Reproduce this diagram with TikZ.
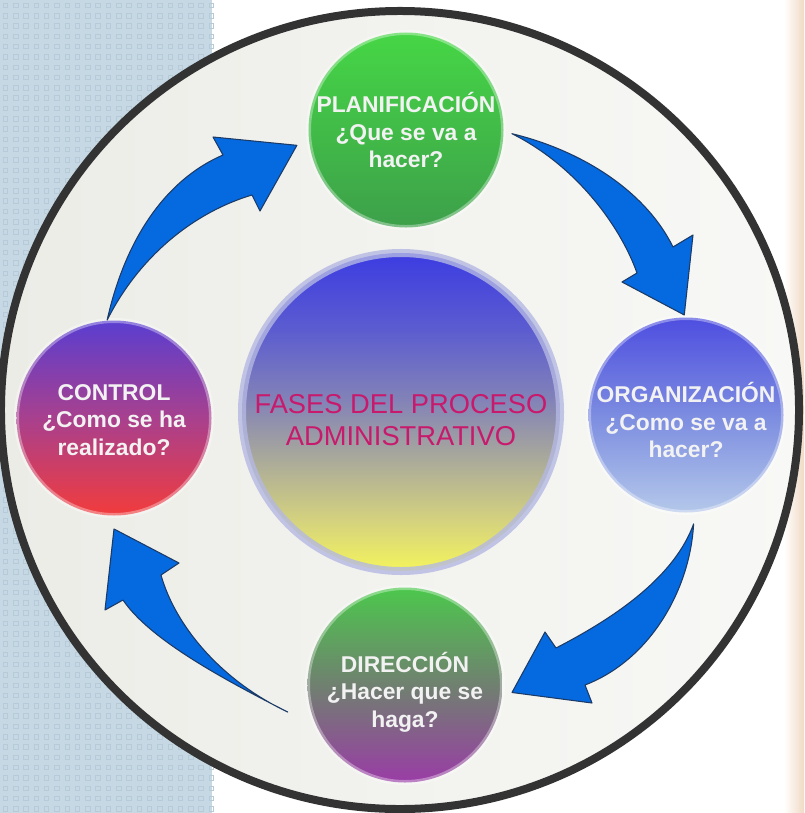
\documentclass[tikz,border=0pt]{standalone}
\usepackage{fontspec}
\setmainfont{Liberation Sans}
\usetikzlibrary{calc}

\definecolor{fondoazul}{HTML}{C6D8E4}
\definecolor{cuadroazul}{HTML}{B6CAD8}
\definecolor{beige}{HTML}{F0DAC4}
\definecolor{aro}{HTML}{333333}
\definecolor{rellenoA}{HTML}{ECECE7}
\definecolor{rellenoB}{HTML}{F8F8F6}
\definecolor{flechaazul}{HTML}{0569E0}
\definecolor{flechaborde}{HTML}{1B3A66}
\definecolor{textofases}{HTML}{C81A6C}
\definecolor{lavanda}{HTML}{B4B8E2}
\definecolor{planA}{HTML}{46D646}
\definecolor{planB}{HTML}{3DA04A}
\definecolor{orgA}{HTML}{4E4EE0}
\definecolor{orgM}{HTML}{7C8CE0}
\definecolor{orgB}{HTML}{B4C8EA}
\definecolor{ctrlA}{HTML}{5A3ED0}
\definecolor{ctrlM}{HTML}{A8408E}
\definecolor{ctrlB}{HTML}{F23C3C}
\definecolor{dirA}{HTML}{4CC84C}
\definecolor{dirM}{HTML}{708070}
\definecolor{dirB}{HTML}{9A3CA6}
\definecolor{fasesA}{HTML}{3C3CE2}
\definecolor{fasesB}{HTML}{5C5CD0}
\definecolor{fasesM}{HTML}{8282B8}
\definecolor{fasesD}{HTML}{A8A89C}
\definecolor{fasesE}{HTML}{D4D27E}
\definecolor{fasesC}{HTML}{F4F45C}

\pgfdeclareverticalshading{fases}{100bp}{color(0bp)=(fasesC); color(25bp)=(fasesC);
  color(33bp)=(fasesE); color(43bp)=(fasesD); color(52bp)=(fasesM);
  color(63bp)=(fasesB); color(75bp)=(fasesA); color(100bp)=(fasesA)}

\tikzset{
  fase/.style={circle, minimum size=5.85cm, inner sep=0pt, outer sep=0pt,
    draw=white, draw opacity=0.35, line width=0.15cm},
  rotulo/.style={align=center, text=white!95!black,
    font=\bfseries\fontsize{19.5}{23.5}\selectfont},
  flecha/.style={fill=flechaazul, draw=flechaborde, line width=0.9pt, line join=round},
  cuadro/.style={draw=cuadroazul, line width=0.4pt},
}

\begin{document}
\begin{tikzpicture}[x=0.03cm, y=-0.03cm]
    \useasboundingbox (0,0) rectangle (804,813);
    % fondo
    \fill[white] (0,0) rectangle (804,813);
    \fill[fondoazul] (0,0) rectangle (212,813);
    \foreach \i in {0,...,20}
      \foreach \j in {0,...,78}
        \draw[cuadro] (\i*10.3+3,\j*10.3+3) rectangle ++(4.5,4.5);
    \shade[left color=white, right color=beige] (784,0) rectangle (804,813);

    % circulo grande
    \draw[aro, line width=0.24cm, left color=rellenoA, right color=rellenoB] (400,410) circle (11.97cm);

    % fases
    \node[circle, minimum size=9.54cm, inner sep=0pt, outer sep=0pt, shading=fases,
      draw=lavanda, draw opacity=0.8, line width=0.24cm] (fases) at (401,412) {};
    \node[align=center, text=textofases, font=\fontsize{23.3}{27.3}\selectfont]
      (fases-t) at (401,420) {FASES DEL PROCESO\\ADMINISTRATIVO};

    \node[fase, top color=planA, bottom color=planB] (plan) at (406,130) {};
    \node[rotulo] (plan-t) at (406,130) {PLANIFICACIÓN\\¿Que se va a\\hacer?};

    \node[fase, top color=orgA, bottom color=orgB, middle color=orgM] (org) at (686,415) {};
    \node[rotulo] (org-t) at (686,420) {ORGANIZACIÓN\\¿Como se va a\\hacer?};

    \node[fase, top color=dirA, bottom color=dirB, middle color=dirM] (dir) at (405,685) {};
    \node[rotulo] (dir-t) at (405,692) {DIRECCIÓN\\¿Hacer que se\\haga?};

    \node[fase, top color=ctrlA, bottom color=ctrlB, middle color=ctrlM] (ctrl) at (114,418) {};
    \node[rotulo] (ctrl-t) at (114,420) {CONTROL\\¿Como se ha\\realizado?};

    % colas y puntas de las flechas
    \coordinate (cola1) at ($(ctrl)!1.007!(ctrl.94)$);
    \coordinate (punta1) at ($(plan)!1.13!(plan.188)$);
    \coordinate (cola2) at ($(plan)!1.087!(plan.358)$);
    \coordinate (punta2) at ($(org)!1.026!(org.91)$);
    \coordinate (cola3) at ($(org)!1.12!(org.274)$);
    \coordinate (punta3) at ($(dir)!1.1!(dir.356)$);
    \coordinate (cola4) at ($(dir)!1.234!(dir.193.5)$);
    \coordinate (punta4) at ($(ctrl)!1.138!(ctrl.270)$);

    \draw[flecha] (cola1) .. controls (125,240) and (165,180) .. (223,155)
      -- (213,137) -- (punta1) -- (260,211) -- (252,195)
      .. controls (195,212) and (140,255) .. (cola1) -- cycle;
    \draw[flecha] (cola2) .. controls (580,150) and (645,190) .. (673,247)
      -- (693,235) -- (punta2) -- (622,282) -- (637,273)
      .. controls (620,225) and (575,165) .. (cola2) -- cycle;
    \draw[flecha] (cola3) .. controls (690,590) and (650,660) .. (585,685)
      -- (592,703) -- (punta3) -- (545,632) -- (556,648)
      .. controls (620,615) and (675,575) .. (cola3) -- cycle;
    \draw[flecha] (cola4) .. controls (225,680) and (150,640) .. (123,600)
      -- (105,610) -- (punta4) -- (179,563) -- (161,575)
      .. controls (175,625) and (220,680) .. (cola4) -- cycle;
\end{tikzpicture}
\end{document}
